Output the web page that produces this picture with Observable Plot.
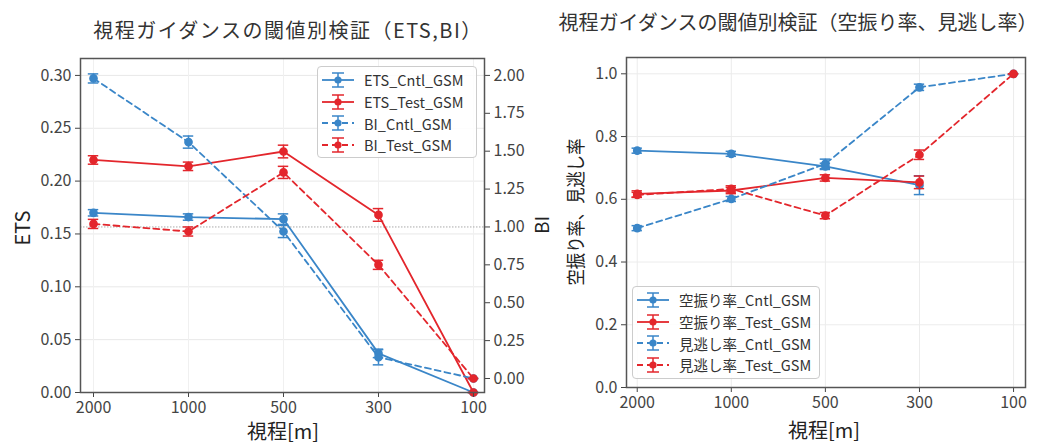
<!DOCTYPE html>
<html><head><meta charset="utf-8">
<script src="https://cdn.jsdelivr.net/npm/d3@7"></script>
<script src="https://cdn.jsdelivr.net/npm/@observablehq/plot@0.6"></script>
<style>
body{margin:0;background:#fff;font-family:"Noto Sans CJK JP","Noto Sans",sans-serif;}
#wrap{position:relative;width:1056px;height:444px;overflow:hidden;}
.abs{position:absolute;white-space:nowrap;line-height:1;}
.c{transform:translate(-50%,-50%);}
.rot{transform:translate(-50%,-50%) rotate(-90deg);}
.rotn{transform:translate(-50%,-50%) rotate(-90deg) scaleX(0.86);}
.legend{position:absolute;border:1px solid #ccc;border-radius:4px;background:rgba(255,255,255,0.85);box-sizing:border-box;padding:2px 0 0 3px;}
.legend .row{display:flex;align-items:center;height:21.7px;font-size:14.5px;color:#333;}
.legend svg{margin-right:9px;}
</style></head>
<body><div id="wrap"></div>
<script>
const visibility = ["2000", "1000", "500", "300", "100"];

// Left panel: ETS (left axis) and BI (right axis)
const etsCntl    = [0.170, 0.166, 0.164, 0.037, 0.000];
const etsCntlErr = [0.003, 0.003, 0.005, 0.004, 0.000];
const etsTest    = [0.220, 0.214, 0.228, 0.168, 0.000];
const etsTestErr = [0.004, 0.004, 0.006, 0.006, 0.000];
const biCntl     = [1.98, 1.56, 0.97, 0.14, 0.00];
const biCntlErr  = [0.03, 0.04, 0.04, 0.05, 0.00];
const biTest     = [1.02, 0.97, 1.36, 0.75, 0.00];
const biTestErr  = [0.03, 0.03, 0.04, 0.03, 0.00];

// Right panel: false alarm ratio / miss ratio
const faCntl     = [0.755, 0.745, 0.705, 0.645, null];
const faCntlErr  = [0.008, 0.008, 0.010, 0.030, null];
const faTest     = [0.617, 0.628, 0.668, 0.654, null];
const faTestErr  = [0.010, 0.010, 0.010, 0.020, null];
const missCntl   = [0.508, 0.601, 0.713, 0.957, 1.000];
const missCntlErr= [0.008, 0.008, 0.015, 0.010, 0.000];
const missTest   = [0.614, 0.633, 0.548, 0.742, 1.000];
const missTestErr= [0.008, 0.010, 0.010, 0.015, 0.000];

const etsTicks = [0, 0.05, 0.10, 0.15, 0.20, 0.25, 0.30];
const biTicks  = [0, 0.25, 0.5, 0.75, 1.0, 1.25, 1.5, 1.75, 2.0];
const rateTicks = [0, 0.2, 0.4, 0.6, 0.8, 1.0];

const BLUE = "#3a86c8", RED = "#e3262c";
const FONT = '"Noto Sans CJK JP","Noto Sans",sans-serif';

// BI mapped onto ETS scale (BI 0 -> 0.01325, BI 2 -> 0.30)
const bi0 = 0.01325, biK = (0.30 - bi0) / 2;
const toE = b => bi0 + biK * b;
const fromE = e => (e - bi0) / biK;

function rows(name, vals, errs, color, dash, map = v => v) {
  return vals.map((v, i) => ({series: name, i, v: v == null ? null : map(v),
    lo: v == null ? null : map(v - errs[i]), hi: v == null ? null : map(v + errs[i]),
    color, dash})).filter(d => d.v != null);
}

function seriesMarks(data) {
  const marks = [];
  const groups = d3.groups(data, d => d.series);
  for (const [name, g] of groups) {
    const c = g[0].color, dash = g[0].dash ? "6,4" : null;
    marks.push(Plot.line(g, {x: "i", y: "v", stroke: c, strokeWidth: 1.8, strokeDasharray: dash}));
    marks.push(Plot.ruleX(g, {x: "i", y1: "lo", y2: "hi", stroke: c, strokeWidth: 1.5}));
    marks.push(Plot.ruleY(g, {y: "lo", x1: d => d.i - 0.055, x2: d => d.i + 0.055, stroke: c, strokeWidth: 1.5}));
    marks.push(Plot.ruleY(g, {y: "hi", x1: d => d.i - 0.055, x2: d => d.i + 0.055, stroke: c, strokeWidth: 1.5}));
    marks.push(Plot.dot(g, {x: "i", y: "v", r: 3.6, fill: c, stroke: c}));
  }
  return marks;
}

const wrap = document.getElementById("wrap");
function place(el, left, top) { el.style.position = "absolute"; el.style.left = left + "px"; el.style.top = top + "px"; wrap.appendChild(el); }
function text(t, x, y, size, cls, color = "#222", ls = 0) {
  const d = document.createElement("div");
  d.className = "abs " + cls; d.textContent = t;
  d.style.left = x + "px"; d.style.top = y + "px"; d.style.fontSize = size + "px"; d.style.color = color;
  if (ls) d.style.letterSpacing = ls + "px";
  wrap.appendChild(d);
}

// ---------- left panel ----------
const leftData = [
  ...rows("ETS_Cntl_GSM", etsCntl, etsCntlErr, BLUE, false),
  ...rows("ETS_Test_GSM", etsTest, etsTestErr, RED, false),
  ...rows("BI_Cntl_GSM", biCntl, biCntlErr, BLUE, true, toE),
  ...rows("BI_Test_GSM", biTest, biTestErr, RED, true, toE)
];
const left = Plot.plot({
  width: 530, height: 444,
  marginLeft: 80, marginRight: 46, marginTop: 58, marginBottom: 52,
  style: {fontFamily: FONT, fontSize: "16px", color: "#444", background: "transparent"},
  x: {type: "linear", domain: [-0.137, 4.116]},
  y: {domain: [0, 0.316]},
  marks: [
    Plot.gridY(etsTicks, {stroke: "#e8e8e8", strokeOpacity: 1}),
    Plot.gridX([0,1,2,3,4], {stroke: "#f0f0f0", strokeOpacity: 1}),
    Plot.ruleY([toE(1.0)], {stroke: "#aaa", strokeWidth: 1, strokeDasharray: "1.5,1.5"}),
    ...seriesMarks(leftData),
    Plot.axisY(etsTicks, {anchor: "left", tickFormat: d => d.toFixed(2), tickSize: 5, tickPadding: 4, label: null}),
    Plot.axisY(biTicks.map(toE), {anchor: "right", tickFormat: e => fromE(e).toFixed(2), tickSize: 5, tickPadding: 4, label: null}),
    Plot.axisX([0,1,2,3,4], {tickFormat: i => visibility[i], tickSize: 5, tickPadding: 4, label: null}),
    Plot.frame({stroke: "#555", strokeWidth: 1.5})
  ]
});
place(left, 0, 0);

// ---------- right panel ----------
const rightData = [
  ...rows("空振り率_Cntl_GSM", faCntl, faCntlErr, BLUE, false),
  ...rows("空振り率_Test_GSM", faTest, faTestErr, RED, false),
  ...rows("見逃し率_Cntl_GSM", missCntl, missCntlErr, BLUE, true),
  ...rows("見逃し率_Test_GSM", missTest, missTestErr, RED, true)
];
const right = Plot.plot({
  width: 526, height: 444,
  marginLeft: 96, marginRight: 31, marginTop: 57, marginBottom: 57,
  style: {fontFamily: FONT, fontSize: "16px", color: "#444", background: "transparent"},
  x: {type: "linear", domain: [-0.114, 4.127]},
  y: {domain: [0, 1.052]},
  marks: [
    Plot.gridY(rateTicks, {stroke: "#ececec", strokeOpacity: 1}),
    Plot.gridX([0,1,2,3,4], {stroke: "#ececec", strokeOpacity: 1}),
    ...seriesMarks(rightData),
    Plot.axisY(rateTicks, {anchor: "left", tickFormat: d => d.toFixed(1), tickSize: 5, tickPadding: 4, label: null}),
    Plot.axisX([0,1,2,3,4], {tickFormat: i => visibility[i], tickSize: 5, tickPadding: 4, label: null}),
    Plot.frame({stroke: "#555", strokeWidth: 1.5})
  ]
});
place(right, 530, 0);

// ---------- texts ----------
text("視程ガイダンスの閾値別検証（ETS,BI）", 288, 30, 20, "c", "#333", 1.5);
text("視程ガイダンスの閾値別検証（空振り率、見逃し率）", 798, 22, 20, "c", "#333");
text("ETS", 22, 228, 20, "rot");
text("BI", 540, 225, 19, "rot");
text("空振り率、見逃し率", 574, 212, 19, "rotn");
text("視程[m]", 283, 431, 20, "c");
text("視程[m]", 824, 430, 20, "c");

// ---------- legends ----------
function legend(items, left, top, w, h) {
  const box = document.createElement("div");
  box.className = "legend";
  box.style.left = left + "px"; box.style.top = top + "px";
  box.style.width = w + "px"; box.style.height = h + "px";
  for (const it of items) {
    const row = document.createElement("div"); row.className = "row";
    const ns = "http://www.w3.org/2000/svg";
    const s = document.createElementNS(ns, "svg");
    s.setAttribute("width", 34); s.setAttribute("height", 18);
    const mk = (tag, attrs) => { const e = document.createElementNS(ns, tag); for (const k in attrs) e.setAttribute(k, attrs[k]); s.appendChild(e); };
    mk("line", {x1: 1, x2: 33, y1: 9, y2: 9, stroke: it.color, "stroke-width": 1.8, "stroke-dasharray": it.dash ? "6,4" : "none"});
    mk("line", {x1: 17, x2: 17, y1: 2, y2: 16, stroke: it.color, "stroke-width": 1.5});
    mk("line", {x1: 11, x2: 23, y1: 2, y2: 2, stroke: it.color, "stroke-width": 1.5});
    mk("line", {x1: 11, x2: 23, y1: 16, y2: 16, stroke: it.color, "stroke-width": 1.5});
    mk("circle", {cx: 17, cy: 9, r: 3.6, fill: it.color});
    row.appendChild(s);
    const t = document.createElement("span"); t.textContent = it.name; row.appendChild(t);
    box.appendChild(row);
  }
  wrap.appendChild(box);
}
legend([
  {name: "ETS_Cntl_GSM", color: BLUE, dash: false},
  {name: "ETS_Test_GSM", color: RED, dash: false},
  {name: "BI_Cntl_GSM", color: BLUE, dash: true},
  {name: "BI_Test_GSM", color: RED, dash: true}
], 317, 66, 160, 92);
legend([
  {name: "空振り率_Cntl_GSM", color: BLUE, dash: false},
  {name: "空振り率_Test_GSM", color: RED, dash: false},
  {name: "見逃し率_Cntl_GSM", color: BLUE, dash: true},
  {name: "見逃し率_Test_GSM", color: RED, dash: true}
], 632, 286, 188, 93);
</script></body></html>
